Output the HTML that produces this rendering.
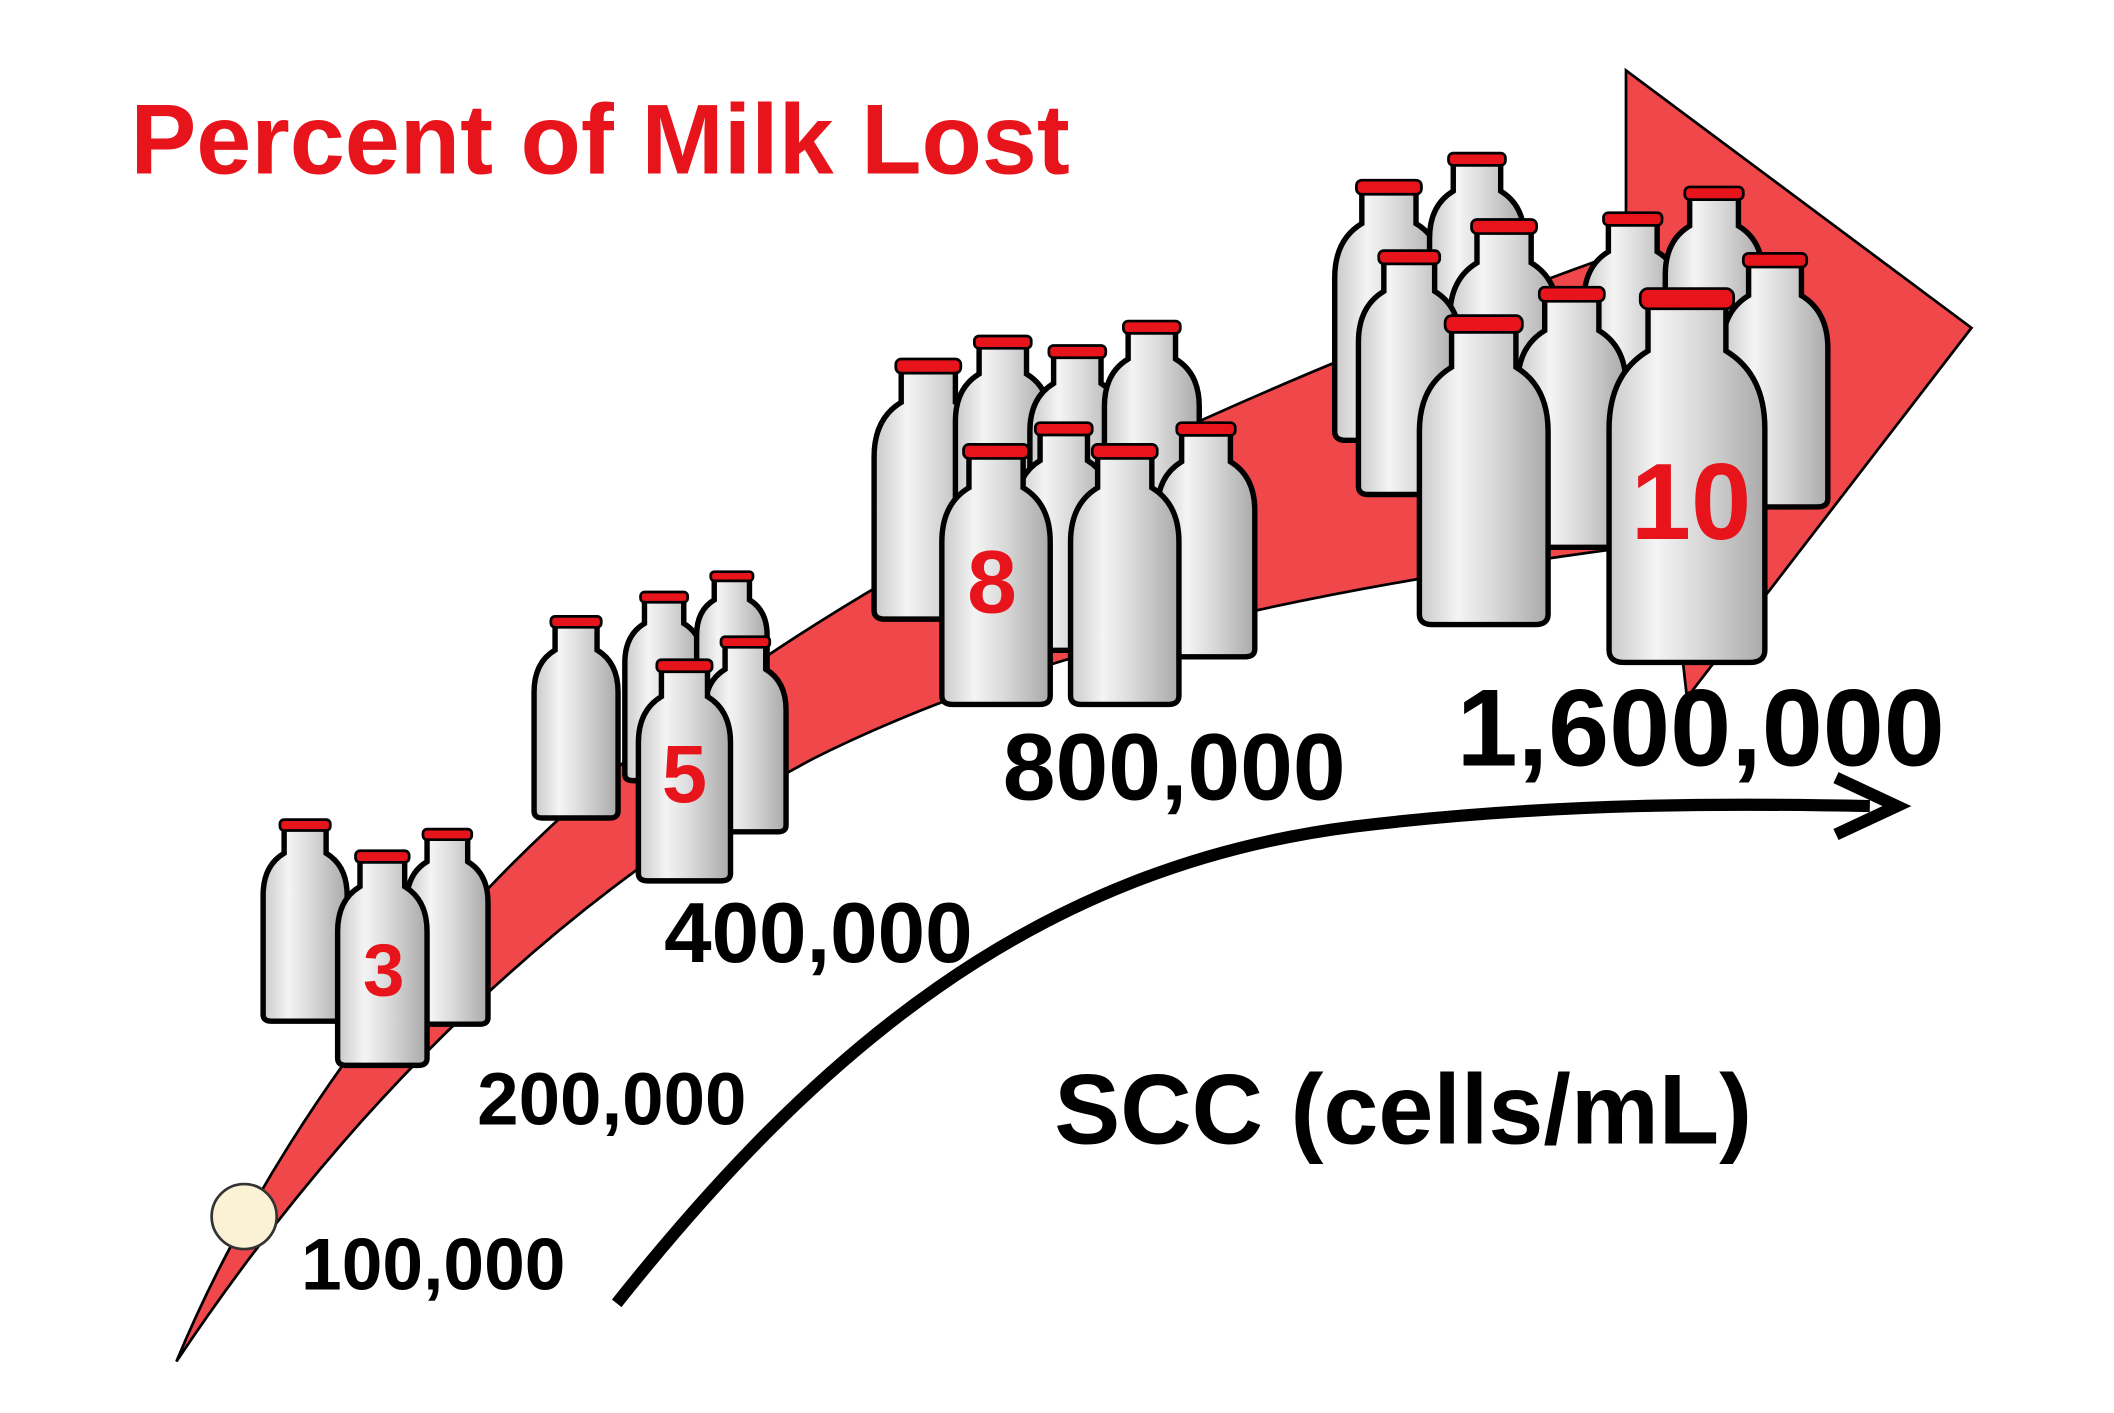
<!DOCTYPE html>
<html><head><meta charset="utf-8">
<style>
html,body{margin:0;padding:0;background:#fff;}
svg{display:block;}
text{font-family:"Liberation Sans",sans-serif;font-weight:bold;}
</style></head>
<body>
<svg id="chart" width="2114" height="1413" viewBox="0 0 1560 1043" xmlns="http://www.w3.org/2000/svg">
<defs>
<linearGradient id="glass" x1="0" x2="1" y1="0" y2="0">
<stop offset="0" stop-color="#c9c9c9"/><stop offset="0.3" stop-color="#f4f4f4"/><stop offset="0.55" stop-color="#dcdcdc"/><stop offset="1" stop-color="#a9a9a9"/>
</linearGradient>
</defs>
<text x="96" y="128" font-size="73" fill="#e8141c">Percent of Milk Lost</text>
<path fill="#f0474a" stroke="#000" stroke-width="2"
 d="M130,1005 C190,860 300,700 440,580 C600,440 850,310 1200,185 L1200,52 L1455,242 L1245,515 L1232,400 C1000,430 780,470 600,560 C450,640 280,780 130,1005 Z"/>
<circle cx="180" cy="898" r="24" fill="#fbf1d4" stroke="#333" stroke-width="2"/>
<path d="M455,962 C600,780 760,640 1000,610 C1150,592 1280,593 1380,595" fill="none" stroke="#000" stroke-width="9"/>
<path d="M1355,574 L1400,595 L1355,616" fill="none" stroke="#000" stroke-width="9"/>
<text x="778" y="844" font-size="73" fill="#000">SCC (cells/mL)</text>
<g id="bottles"></g>
<g id="labels"></g>
</svg>
<script>
const sccLabels = ["100,000","200,000","400,000","800,000","1,600,000"];
const percentLost = [3,5,8,10];
const bottleCounts = [3,5,8,10];

const svg = document.getElementById('chart');
const NS = "http://www.w3.org/2000/svg";
const labelPos = [[222,952,54],[352,830,55],[490,710,63],[740,590,70],[1075,565,81]];
const groups = [
 [[225,605,62],[330,612,60],[282,628,66]],
 [[425,455,62],[490,437,58],[540,422,52],[550,470,60],[505,487,68]],
 [[685,265,80],[740,248,70],[795,255,70],[850,237,70],[890,312,72],[785,312,70],[830,328,80],[735,328,80]],
 [[1025,133,80],[1090,113,70],[1110,162,80],[1205,157,72],[1265,138,72],[1040,185,75],[1310,187,78],[1160,212,80],[1095,233,95],[1245,213,115]]
];
const numPos = [[283,735,55],[505,592,60],[732,452,66],[1248,398,80]];

const lg = document.getElementById('labels');
sccLabels.forEach((s,i)=>{
  const t=document.createElementNS(NS,'text');
  
  
  t.setAttribute('x',labelPos[i][0]);t.setAttribute('y',labelPos[i][1]);
  t.setAttribute('font-size',labelPos[i][2]);t.textContent=s;
  lg.appendChild(t);
});

const bg = document.getElementById('bottles');
function bottle(cx,y,w){
  const h=2.4*w, g=document.createElementNS(NS,'g');
  
  
  const p=document.createElementNS(NS,'path');
  p.setAttribute('d',`M${cx-0.25*w},${y+0.1*w} L${cx-0.25*w},${y+0.4*w} Q${cx-0.5*w},${y+0.55*w} ${cx-0.5*w},${y+0.9*w} L${cx-0.5*w},${y+h-0.08*w} Q${cx-0.5*w},${y+h} ${cx-0.4*w},${y+h} L${cx+0.4*w},${y+h} Q${cx+0.5*w},${y+h} ${cx+0.5*w},${y+h-0.08*w} L${cx+0.5*w},${y+0.9*w} Q${cx+0.5*w},${y+0.55*w} ${cx+0.25*w},${y+0.4*w} L${cx+0.25*w},${y+0.1*w} Z`);
  p.setAttribute('fill','url(#glass)');p.setAttribute('stroke','#000');p.setAttribute('stroke-width','4');
  g.appendChild(p);
  const c=document.createElementNS(NS,'rect');
  c.setAttribute('x',cx-0.3*w);c.setAttribute('y',y);c.setAttribute('width',0.6*w);c.setAttribute('height',0.13*w);
  c.setAttribute('rx',0.05*w);c.setAttribute('fill','#e8141c');c.setAttribute('stroke','#000');c.setAttribute('stroke-width','2');
  g.appendChild(c);
  bg.appendChild(g);
}
percentLost.forEach((v,i)=>{
  groups[i].slice(0,bottleCounts[i]).forEach(b=>bottle(b[0],b[1],b[2]));
  const t=document.createElementNS(NS,'text');
  
  
  t.setAttribute('x',numPos[i][0]);t.setAttribute('y',numPos[i][1]);
  t.setAttribute('font-size',numPos[i][2]);t.setAttribute('text-anchor','middle');
  t.setAttribute('fill','#e8141c');t.textContent=v;
  bg.appendChild(t);
});
</script>
</body></html>
